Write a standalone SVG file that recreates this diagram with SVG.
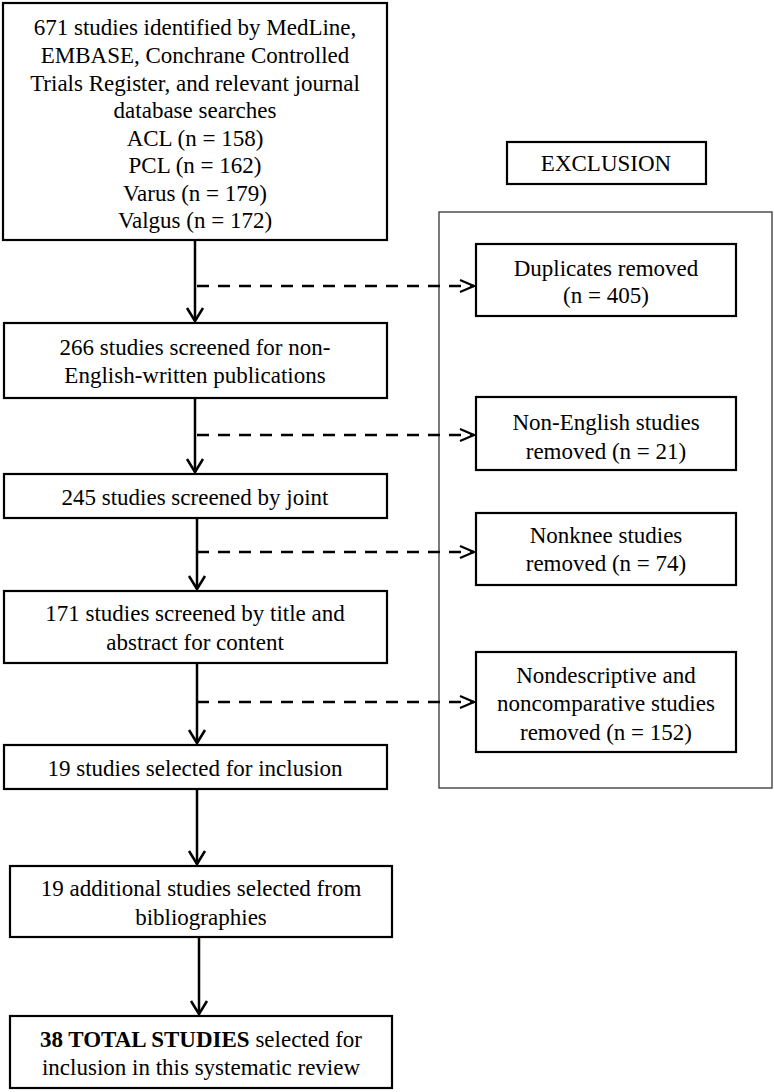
<svg xmlns="http://www.w3.org/2000/svg" width="774" height="1092" viewBox="0 0 774 1092">
<style>
.box{fill:#fff;stroke:#000;stroke-width:2.2}
.outer{fill:none;stroke:#333;stroke-width:1.3}
text{font-family:"Liberation Serif","Times New Roman",serif;font-size:23px;fill:#000;text-anchor:middle}
.solid{stroke:#000;stroke-width:2.5;fill:none}
.dash{stroke:#000;stroke-width:2.5;fill:none;stroke-dasharray:12 9}
</style>
<defs>
<marker id="av" markerUnits="userSpaceOnUse" orient="auto" overflow="visible"><path d="M-13,-8 L0,0 L-13,8" fill="none" stroke="#000" stroke-width="2.5"/></marker>
<marker id="ah" markerUnits="userSpaceOnUse" orient="auto" overflow="visible"><path d="M-14,-6 L0,0 L-14,6" fill="none" stroke="#000" stroke-width="2.2"/></marker>
</defs>
<rect width="774" height="1092" fill="#fff"/>
<g id="exclusion-panel"><rect class="outer" x="439" y="212" width="333" height="576"/></g>
<g id="connectors">
<path class="solid" d="M195,240 V321" marker-end="url(#av)"/>
<path class="solid" d="M195,398 V472" marker-end="url(#av)"/>
<path class="solid" d="M197,518 V589" marker-end="url(#av)"/>
<path class="solid" d="M197,663 V743" marker-end="url(#av)"/>
<path class="solid" d="M197,789 V864" marker-end="url(#av)"/>
<path class="solid" d="M199,937 V1014" marker-end="url(#av)"/>
<path class="dash" d="M197,286 H474" marker-end="url(#ah)"/>
<path class="dash" d="M197,435 H474" marker-end="url(#ah)"/>
<path class="dash" d="M197,552 H474" marker-end="url(#ah)"/>
<path class="dash" d="M197,702 H474" marker-end="url(#ah)"/>
</g>
<g id="n1"><rect class="box" x="3" y="3" width="384" height="237"/>
<text x="195" y="35">671 studies identified by MedLine,</text>
<text x="195" y="63">EMBASE, Conchrane Controlled</text>
<text x="195" y="91">Trials Register, and relevant journal</text>
<text x="195" y="118">database searches</text>
<text x="195" y="146">ACL (n = 158)</text>
<text x="195" y="173">PCL (n = 162)</text>
<text x="195" y="201">Varus (n = 179)</text>
<text x="195" y="228">Valgus (n = 172)</text></g>
<g id="n2"><rect class="box" x="4" y="323" width="383" height="75"/>
<text x="195" y="355">266 studies screened for non-</text>
<text x="195" y="383">English-written publications</text></g>
<g id="n3"><rect class="box" x="4" y="474" width="383" height="44"/>
<text x="195" y="505">245 studies screened by joint</text></g>
<g id="n4"><rect class="box" x="4" y="591" width="383" height="72"/>
<text x="195" y="621">171 studies screened by title and</text>
<text x="195" y="650">abstract for content</text></g>
<g id="n5"><rect class="box" x="4" y="745" width="383" height="44"/>
<text x="195" y="776">19 studies selected for inclusion</text></g>
<g id="n6"><rect class="box" x="10" y="866" width="382" height="71"/>
<text x="201" y="896">19 additional studies selected from</text>
<text x="201" y="925">bibliographies</text></g>
<g id="n7"><rect class="box" x="10" y="1016" width="382" height="72"/>
<text x="201" y="1047"><tspan font-weight="bold">38 TOTAL STUDIES</tspan> selected for</text>
<text x="201" y="1075">inclusion in this systematic review</text></g>
<g id="exclusion-label"><rect class="box" x="507" y="142" width="199" height="42" stroke-width="1.6"/>
<text x="606" y="171">EXCLUSION</text></g>
<g id="x1"><rect class="box" x="476" y="244" width="260" height="72"/>
<text x="606" y="276">Duplicates removed</text>
<text x="606" y="303">(n = 405)</text></g>
<g id="x2"><rect class="box" x="476" y="397" width="260" height="73"/>
<text x="606" y="430">Non-English studies</text>
<text x="606" y="459">removed (n = 21)</text></g>
<g id="x3"><rect class="box" x="476" y="513" width="260" height="72"/>
<text x="606" y="543">Nonknee studies</text>
<text x="606" y="571">removed (n = 74)</text></g>
<g id="x4"><rect class="box" x="476" y="652" width="260" height="100"/>
<text x="606" y="683">Nondescriptive and</text>
<text x="606" y="711">noncomparative studies</text>
<text x="606" y="740">removed (n = 152)</text></g>
</svg>
